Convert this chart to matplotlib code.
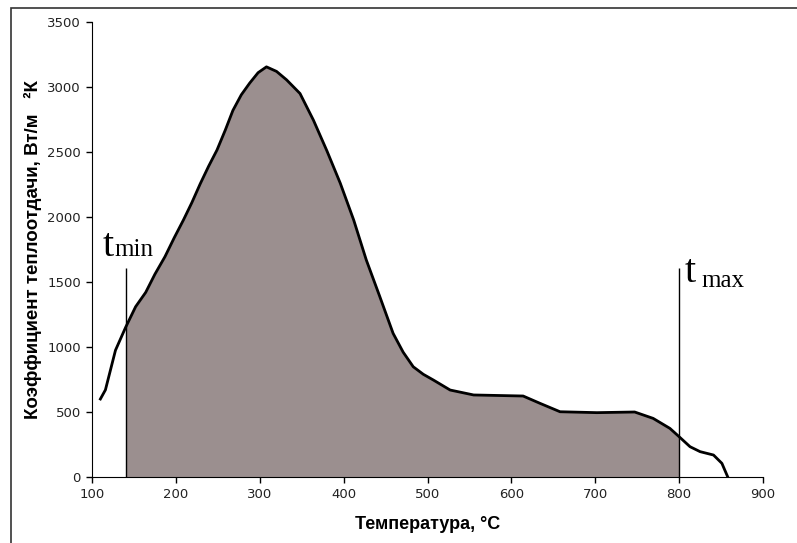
import numpy as np
import matplotlib.pyplot as plt
from matplotlib.patches import Rectangle

# data
temp = np.array([110, 116, 128, 140, 152, 164, 175, 187, 198, 209, 219, 229, 239, 249, 259,
                 268, 278, 288, 298, 308, 320, 332, 348, 364, 380, 396, 412, 427, 443, 459,
                 471, 483, 495, 507, 527, 555, 614, 634, 658, 702, 747, 769, 789, 800, 813,
                 825, 841, 851, 858])
alpha = np.array([600, 670, 975, 1150, 1310, 1420, 1560, 1695, 1840, 1977, 2110, 2255, 2390, 2515, 2670,
                  2820, 2940, 3030, 3110, 3155, 3120, 3055, 2950, 2745, 2510, 2260, 1977, 1670, 1390, 1105,
                  960, 848, 790, 746, 669, 631, 623, 567, 502, 495, 500, 451, 374, 310, 233,
                  195, 169, 105, 0])
t_min = 140
t_max = 800
marker_top = 1610

xticks = [100, 200, 300, 400, 500, 600, 700, 800, 900]
yticks = [0, 500, 1000, 1500, 2000, 2500, 3000, 3500]

plt.rcParams['font.family'] = ['Liberation Sans', 'DejaVu Sans']

fig = plt.figure(figsize=(7.97, 5.43), dpi=100)
ax = fig.add_axes([92 / 797, 1 - 477 / 543, (763 - 92) / 797, (477 - 22) / 543])

# outer frame of the picture
fig.patches.append(Rectangle((11 / 797, -0.1), 1.2, 1 - 8 / 543 + 0.1, transform=fig.transFigure,
                             fill=False, edgecolor='#333333', linewidth=1.2))

sel = (temp >= t_min) & (temp <= t_max)
ax.fill_between(temp, 0, alpha, where=sel, color='#9b8f8f', linewidth=0, zorder=1)
ax.plot(temp, alpha, color='black', linewidth=2, solid_joinstyle='round', zorder=3)
ax.vlines([t_min, t_max], 0, marker_top, color='black', linewidth=1, zorder=2)

ax.set_xlim(100, 900)
ax.set_ylim(0, 3500)
ax.set_xticks(xticks)
ax.set_yticks(yticks)
ax.tick_params(direction='out', length=4, width=1, colors='black', pad=4)
for lab in ax.get_xticklabels() + ax.get_yticklabels():
    lab.set_family('DejaVu Sans')
    lab.set_fontsize(9.5)
    lab.set_color('#222222')
for s in ['top', 'right']:
    ax.spines[s].set_visible(False)

ax.set_xlabel('Температура, °С', fontsize=13, fontweight='bold', labelpad=11)
ax.set_ylabel('Коэффициент теплоотдачи, Вт/м   ²К', fontsize=13.5, fontweight='bold', labelpad=4)

# t_min / t_max labels
serif = ['Liberation Serif', 'DejaVu Serif']
ax.text(t_min - 27, 1700, 't', family=serif, fontsize=29, va='baseline')
ax.text(t_min - 13, 1700, 'min', family=serif, fontsize=18, va='baseline')
ax.text(t_max + 7, 1500, 't', family=serif, fontsize=29, va='baseline')
ax.text(t_max + 27, 1460, 'max', family=serif, fontsize=18, va='baseline')

fig.savefig('out.png', dpi=100)
